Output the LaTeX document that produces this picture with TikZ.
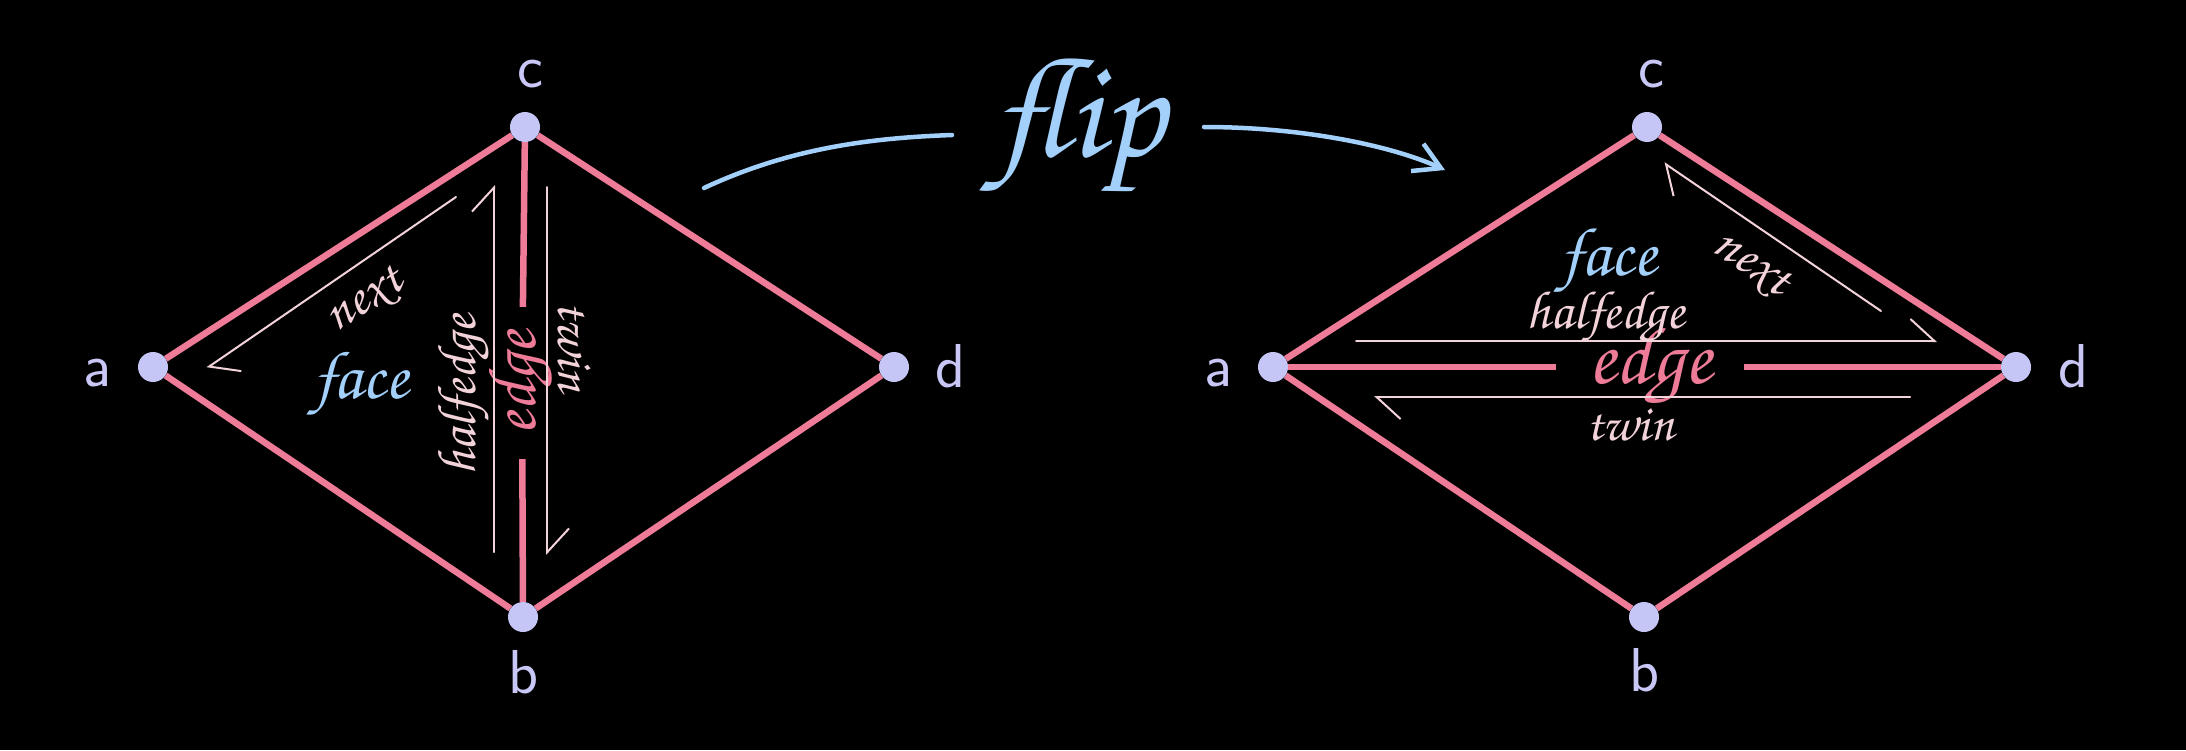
\documentclass[tikz,border=0pt]{standalone}
\usepackage[T1,TU]{fontenc}
\usepackage{graphicx}
\usetikzlibrary{arrows.meta}
\definecolor{edgepink}{HTML}{EE7B98}
\definecolor{vert}{HTML}{C6C6F6}
\definecolor{lbl}{HTML}{C9C7F5}
\definecolor{half}{HTML}{F3D3DA}
\definecolor{sky}{HTML}{A2D0FA}
\newcommand{\scrfont}{\fontencoding{T1}\fontfamily{pzc}\fontseries{mb}\fontshape{it}\selectfont}
\pgfdeclarelayer{canvasfill}
\pgfdeclarelayer{back}
\pgfsetlayers{canvasfill,back,main}
\begin{document}
\begin{tikzpicture}[x=1pt,y=1pt,
  vtx/.style={circle,fill=vert,minimum size=30pt,inner sep=0pt},
  lab/.style={text=lbl,font=\fontsize{62}{62}\sffamily\selectfont,inner sep=0pt},
  meshedge/.style={draw=edgepink,line width=6.5pt},
  halfarrow/.style={draw=half,line width=2pt,line cap=round,-{Straight Barb[left,length=24pt,width=44pt,line width=2pt]}},
  halftext/.style={text=half,inner sep=0pt},
  facetext/.style={text=sky,inner sep=0pt},
  edgetext/.style={text=edgepink,inner ysep=0pt},
  flipline/.style={draw=sky,line width=4.5pt,line cap=round}
]
\begin{pgfonlayer}{canvasfill}
\fill[black] (0,0) rectangle (2186,-750);
\end{pgfonlayer}
\useasboundingbox (0,0) rectangle (2186,-750);

% ---------- left diamond ----------
\node[vtx] (la) at (153,-367) {};
\node[vtx] (lc) at (525,-127) {};
\node[vtx] (lb) at (523,-617) {};
\node[vtx] (ld) at (894,-367) {};
\node[lab] (lla) at (97,-373) {a};
\node[lab] (llc) at (530,-74) {c};
\node[lab] (llb) at (523,-672) {b};
\node[lab] (lld) at (950,-366) {d};
\node[edgetext,rotate=90,inner xsep=24pt] (lE) at (522,-383) {\resizebox{104pt}{!}{\scrfont edge}};

\begin{pgfonlayer}{back}
\draw[meshedge] (la) -- (lc);
\draw[meshedge] (lc) -- (ld);
\draw[meshedge] (ld) -- (lb);
\draw[meshedge] (lb) -- (la);
\draw[meshedge] (lc) -- (lE);
\draw[meshedge] (lE) -- (lb);
\end{pgfonlayer}

\coordinate (lh1) at (494,-552);
\coordinate (lh2) at (494,-185);
\coordinate (lt1) at (547,-187);
\coordinate (lt2) at (547,-555);
\coordinate (ln1) at (456,-197);
\coordinate (ln2) at (207,-368);
\draw[halfarrow] (lh1) -- (lh2);
\draw[halfarrow] (lt1) -- (lt2);
\draw[halfarrow] (ln1) -- (ln2);
\node[halftext,rotate=90] (lhT) at (464,-395) {\resizebox{160pt}{!}{\scrfont halfedge}};
\node[halftext,rotate=-90] (ltT) at (574,-347) {\resizebox{90pt}{!}{\scrfont twin}};
\node[halftext,rotate=33] (lnT) at (366,-302) {\resizebox{82pt}{!}{\scrfont next}};
\node[facetext] (lF) at (361,-385) {\resizebox{95pt}{!}{\scrfont face}};

% ---------- flip ----------
\node[facetext] (flip) at (1080,-128) {\resizebox{170pt}{!}{\scrfont flip}};
\coordinate (f1) at (704,-188);
\coordinate (f2) at (952,-135);
\coordinate (f3) at (1204,-127);
\coordinate (f4) at (1445,-170);
\draw[flipline] (f1) .. controls (790,-148) and (870,-138) .. (f2);
\draw[flipline,-{Straight Barb[length=26pt,width=30pt,line width=4.5pt]}] (f3) .. controls (1300,-127) and (1390,-145) .. (f4);

% ---------- right diamond ----------
\node[vtx] (ra) at (1273,-367) {};
\node[vtx] (rc) at (1647,-127) {};
\node[vtx] (rb) at (1644,-617) {};
\node[vtx] (rd) at (2016,-367) {};
\node[lab] (lra) at (1218,-373) {a};
\node[lab] (lrc) at (1651,-74) {c};
\node[lab] (lrb) at (1644,-670) {b};
\node[lab] (lrd) at (2073,-366) {d};
\node[edgetext,inner xsep=32pt] (rE) at (1650,-367) {\resizebox{124pt}{!}{\scrfont edge}};

\begin{pgfonlayer}{back}
\draw[meshedge] (ra) -- (rc);
\draw[meshedge] (rc) -- (rd);
\draw[meshedge] (rd) -- (rb);
\draw[meshedge] (rb) -- (ra);
\draw[meshedge] (ra) -- (rE);
\draw[meshedge] (rE) -- (rd);
\end{pgfonlayer}

\coordinate (rh1) at (1356,-341);
\coordinate (rh2) at (1937,-341);
\coordinate (rt1) at (1910,-397);
\coordinate (rt2) at (1374,-397);
\coordinate (rn1) at (1881,-311);
\coordinate (rn2) at (1664,-163);
\draw[halfarrow] (rh1) -- (rh2);
\draw[halfarrow] (rt1) -- (rt2);
\draw[halfarrow] (rn1) -- (rn2);
\node[halftext] (rhT) at (1606,-318) {\resizebox{158pt}{!}{\scrfont halfedge}};
\node[halftext] (rtT) at (1630,-425) {\resizebox{88pt}{!}{\scrfont twin}};
\node[halftext,rotate=-34] (rnT) at (1750,-266) {\resizebox{82pt}{!}{\scrfont next}};
\node[facetext] (rF) at (1609,-262) {\resizebox{96pt}{!}{\scrfont face}};
\end{tikzpicture}
\end{document}
